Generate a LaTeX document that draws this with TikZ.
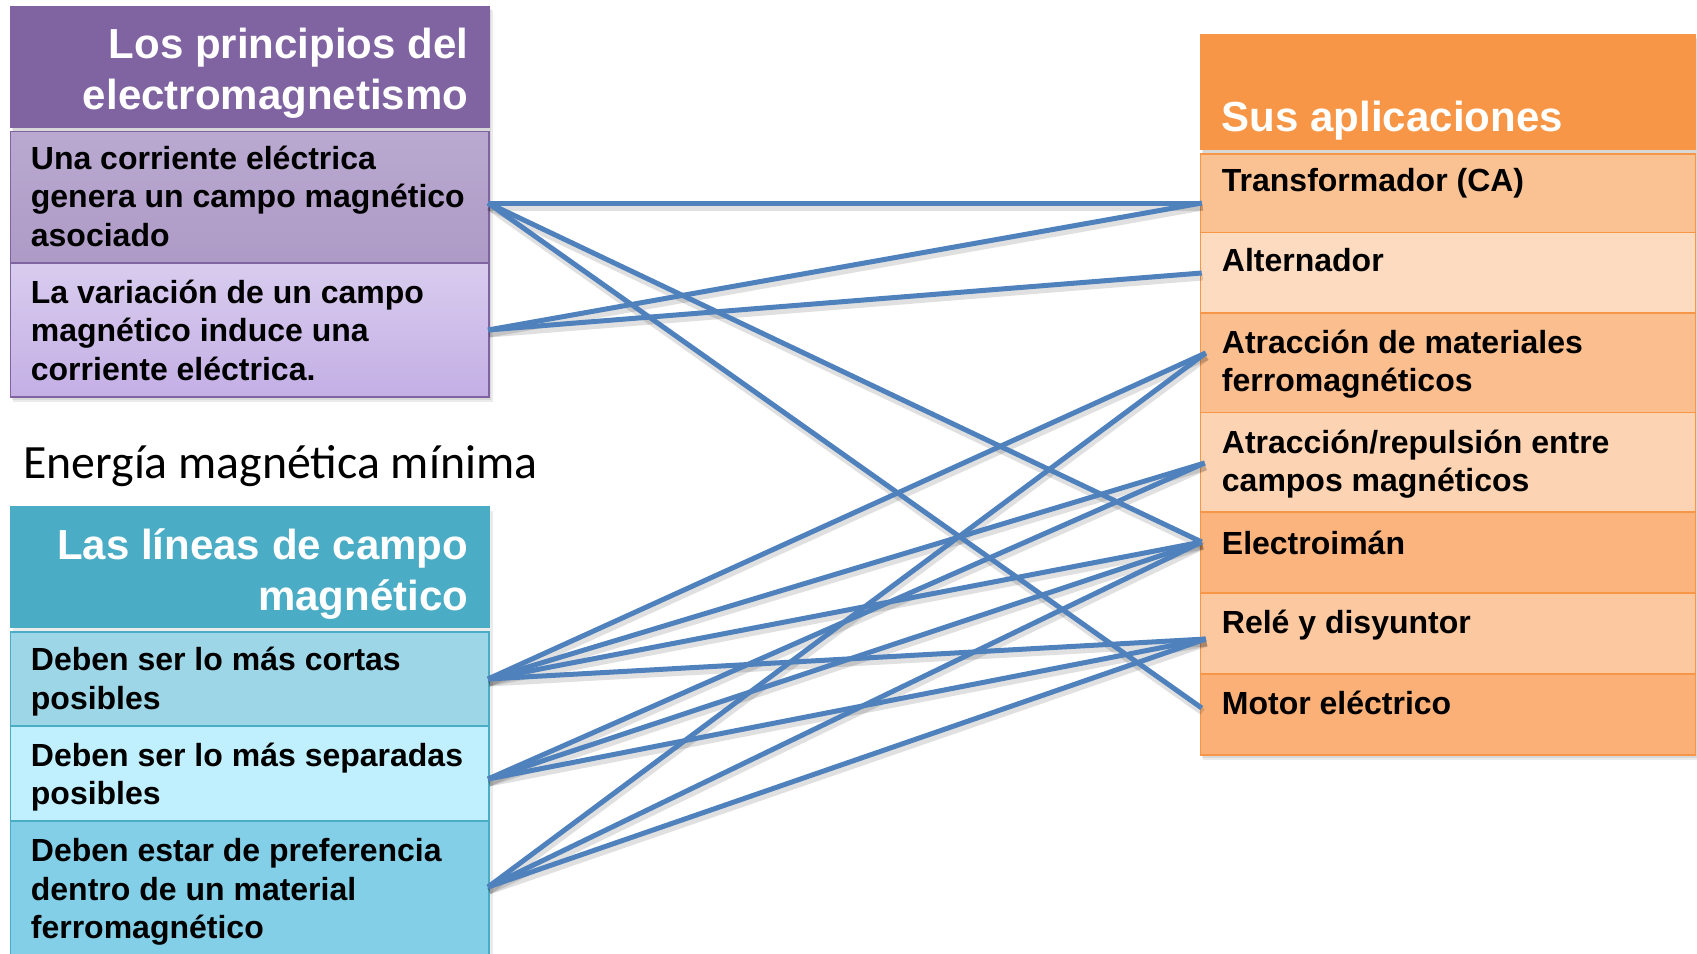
\documentclass[tikz,border=0pt]{standalone}
\usepackage{fontspec}
\setmainfont{Liberation Sans}
\newfontfamily\carlito{Carlito}
\usetikzlibrary{calc}
\definecolor{purpH}{HTML}{8064A2}
\definecolor{purpA1}{HTML}{B9A9D0}
\definecolor{purpA2}{HTML}{AE9AC6}
\definecolor{purpB1}{HTML}{D8CCEE}
\definecolor{purpB2}{HTML}{C4AFE5}
\definecolor{aquaH}{HTML}{4BACC6}
\definecolor{aquaA}{HTML}{9DD6E7}
\definecolor{aquaB}{HTML}{C0F0FD}
\definecolor{aquaC}{HTML}{82CFE7}
\definecolor{orH}{HTML}{F79646}
\definecolor{orT}{HTML}{FAC293}
\definecolor{orA}{HTML}{FDDBC0}
\definecolor{orAM}{HTML}{FBBE8E}
\definecolor{orAR}{HTML}{FDD4B3}
\definecolor{orE}{HTML}{FBB47E}
\definecolor{orR}{HTML}{FCC8A0}
\definecolor{orM}{HTML}{FAB076}
\definecolor{linkblue}{HTML}{4F81BD}
\begin{document}
\begin{tikzpicture}[x=1pt,y=-1pt,
  cell/.style={anchor=north west, inner sep=0pt, outer sep=0pt, line width=1.5pt},
  pcell/.style={cell, draw=purpH, minimum width=478.3pt},
  acell/.style={cell, draw=aquaH, minimum width=478.3pt},
  ocell/.style={cell, draw=orH, minimum width=495pt},
  body/.style={font=\fontsize{32}{38.4}\selectfont\bfseries, anchor=base west, align=left, inner sep=0pt},
  boxtitle/.style={font=\fontsize{42}{50.4}\selectfont\bfseries, text=white, inner sep=0pt},
  boxshadow/.style={fill=black, opacity=0.08},
  link/.style={draw=linkblue, line width=5pt},
  linkshadow/.style={draw=black, opacity=0.12, line width=7pt}
]
\useasboundingbox (0,0) rectangle (1697,953);
\fill[white] (0,0) rectangle (1697,953);

% shadows of the boxes
\fill[boxshadow] (13,10) rectangle (493,402);
\fill[boxshadow] (12,9) rectangle (491,400);
\fill[boxshadow] (13,511) rectangle (493,960);
\fill[boxshadow] (1203,39) rectangle (1699,760);
\fill[boxshadow] (1202,38) rectangle (1699,758);

% ---- top-left box
\node[pcell, fill=purpH, minimum height=120.8pt] (P0) at (10.7,6.7) {};
\node[pcell, top color=purpA1, bottom color=purpA2, minimum height=131.5pt] (P1) at (10.7,131.5) {};
\node[pcell, top color=purpB1, bottom color=purpB2, minimum height=134pt] (P2) at (10.7,263) {};
\node[boxtitle, anchor=base east, align=right] (tP0) at (468.3,109.3) {Los principios del\\electromagnetismo};
\node[body] (tP1) at (30.7,246) {Una corriente eléctrica\\genera un campo magnético\\asociado};
\node[body] (tP2) at (30.7,380) {La variación de un campo\\magnético induce una\\corriente eléctrica.};

% ---- free text
\node[font=\carlito\fontsize{47.8}{57}\selectfont, anchor=base west, inner sep=0pt] (energia) at (23,478) {Energía magnética mínima};

% ---- bottom-left box
\node[acell, fill=aquaH, minimum height=120pt] (B0) at (10.7,507) {};
\node[acell, fill=aquaA, minimum height=94pt] (B1) at (10.7,632) {};
\node[acell, fill=aquaB, minimum height=95pt] (B2) at (10.7,726) {};
\node[acell, fill=aquaC, minimum height=140pt] (B3) at (10.7,821) {};
\node[boxtitle, anchor=base east, align=right] (tB0) at (468.3,610) {Las líneas de campo\\magnético};
\node[body] (tB1) at (30.7,709) {Deben ser lo más cortas\\posibles};
\node[body] (tB2) at (30.7,804.4) {Deben ser lo más separadas\\posibles};
\node[body] (tB3) at (30.7,938.5) {Deben estar de preferencia\\dentro de un material\\ferromagnético};

% ---- right box
\node[ocell, fill=orH, minimum height=114pt] (O0) at (1200.7,35) {};
\node[ocell, fill=orT, minimum height=78.3pt] (O1) at (1200.7,154) {};
\node[ocell, fill=orA, minimum height=80.7pt] (O2) at (1200.7,232.3) {};
\node[ocell, fill=orAM, minimum height=99.5pt] (O3) at (1200.7,313) {};
\node[ocell, fill=orAR, minimum height=99.5pt] (O4) at (1200.7,412.5) {};
\node[ocell, fill=orE, minimum height=81pt] (O5) at (1200.7,512) {};
\node[ocell, fill=orR, minimum height=81pt] (O6) at (1200.7,593) {};
\node[ocell, fill=orM, minimum height=81pt] (O7) at (1200.7,674) {};
\node[boxtitle, anchor=base west] (tO0) at (1221.7,131.7) {Sus aplicaciones};
\node[body] (tO1) at (1221.7,191.7) {Transformador (CA)};
\node[body] (tO2) at (1221.7,271.7) {Alternador};
\node[body] (tO3) at (1221.7,391.7) {Atracción de materiales\\ferromagnéticos};
\node[body] (tO4) at (1221.7,491.7) {Atracción/repulsión entre\\campos magnéticos};
\node[body] (tO5) at (1221.7,554) {Electroimán};
\node[body] (tO6) at (1221.7,633.3) {Relé y disyuntor};
\node[body] (tO7) at (1221.7,714.3) {Motor eléctrico};

% ---- connector end points
\coordinate (lP1) at ($(P1.east |- 0,203)+(-1,0)$);
\coordinate (lP2) at ($(P2.east |- 0,330)+(-1,0)$);
\coordinate (lB1) at ($(B1.east |- 0,679)+(-1,0)$);
\coordinate (lB2) at ($(B2.east |- 0,779)+(-1,0)$);
\coordinate (lB3) at ($(B3.east |- 0,887)+(-1,0)$);
\coordinate (rO1) at ($(O1.west |- 0,203)+(1,0)$);
\coordinate (rO2) at ($(O2.west |- 0,273)+(1,0)$);
\coordinate (rO3) at ($(O3.west |- 0,353)+(5,0)$);
\coordinate (rO4) at ($(O4.west |- 0,463)+(4,0)$);
\coordinate (rO5) at ($(O5.west |- 0,542)+(1,0)$);
\coordinate (rO6) at ($(O6.west |- 0,639)+(5,0)$);
\coordinate (rO7) at ($(O7.west |- 0,708)+(1,0)$);

\foreach \a/\b in {lP1/rO1, lP1/rO5, lP1/rO7, lP2/rO1, lP2/rO2,
                   lB1/rO3, lB1/rO4, lB1/rO5, lB1/rO6,
                   lB2/rO4, lB2/rO5, lB2/rO6,
                   lB3/rO3, lB3/rO5, lB3/rO6}{
  \draw[linkshadow] ($(\a)+(1,4)$) -- ($(\b)+(1,4)$);
}
\foreach \a/\b in {lP1/rO1, lP1/rO5, lP1/rO7, lP2/rO1, lP2/rO2,
                   lB1/rO3, lB1/rO4, lB1/rO5, lB1/rO6,
                   lB2/rO4, lB2/rO5, lB2/rO6,
                   lB3/rO3, lB3/rO5, lB3/rO6}{
  \draw[link] (\a) -- (\b);
}
\end{tikzpicture}
\end{document}
